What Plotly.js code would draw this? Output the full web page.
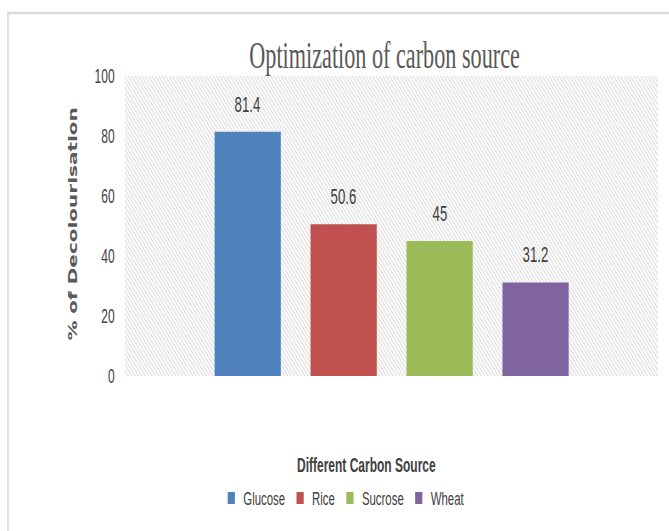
<!DOCTYPE html>
<html>
<head>
<meta charset="utf-8">
<script src="https://cdn.plot.ly/plotly-3.0.1.min.js"></script>
<style>
  html, body { margin: 0; padding: 0; overflow: hidden; background: #fff; }
  #chart { width: 1115px; height: 531px; transform: scaleX(0.6); transform-origin: 0 0; }
</style>
</head>
<body>
<div id="chart"></div>
<script>
// Data
const categories = ["Glucose", "Rice", "Sucrose", "Wheat"];
const decolourisation = [81.4, 50.6, 45, 31.2];
const barColors = ["#4F81BD", "#C0504D", "#9BBB59", "#8064A2"];
const yTickValues = [0, 20, 40, 60, 80, 100];

const sansFont = "Liberation Sans, Arial, sans-serif";
const textGray = "#404040";

const traces = [];
// hatched plot background
traces.push({
  type: "scatter",
  x: [0, 1, 1, 0], y: [0, 0, 100, 100],
  xaxis: "x", yaxis: "y",
  fill: "toself", mode: "lines",
  line: { width: 0 },
  fillcolor: "rgba(0,0,0,0)",
  fillpattern: { shape: "\\", fgcolor: "#d6d6d6", bgcolor: "#ffffff", size: 4, solidity: 0.3 },
  showlegend: false, hoverinfo: "skip"
});

categories.forEach((c, i) => {
  traces.push({
    type: "bar",
    name: c,
    x: [c], y: [decolourisation[i]],
    xaxis: "x2", yaxis: "y",
    width: 0.69,
    marker: { color: barColors[i], line: { width: 0 } },
    hoverinfo: "x+y"
  });
});

const annotations = categories.map((c, i) => ({
  xref: "x2", yref: "y", x: c, y: decolourisation[i],
  text: String(decolourisation[i]),
  showarrow: false, yanchor: "bottom", yshift: 13,
  font: { family: sansFont, size: 22, color: textGray }
}));

annotations.push({
  xref: "paper", yref: "paper", x: -0.097, y: 0.507,
  text: "% of Decolourisation", textangle: -90, showarrow: false,
  xanchor: "center", yanchor: "middle",
  font: { family: "DejaVu Sans, Verdana, sans-serif", size: 20, color: "#595959", weight: "bold" }
});
annotations.push({
  xref: "paper", yref: "paper", x: 0.453, y: -0.297,
  text: "<b>Different Carbon Source</b>", showarrow: false,
  xanchor: "center", yanchor: "middle",
  font: { family: sansFont, size: 20, color: textGray }
});

const layout = {
  width: 1115, height: 531,
  margin: { l: 208, r: 18, t: 76, b: 155 },
  paper_bgcolor: "#ffffff",
  plot_bgcolor: "#ffffff",
  barmode: "overlay",
  title: {
    text: "Optimization of carbon source",
    xref: "paper", x: 0.487, xanchor: "center",
    yref: "container", y: 0.897, yanchor: "middle",
    font: { family: "Liberation Serif, Times New Roman, serif", size: 37, color: "#595959" }
  },
  xaxis: { range: [0, 1], visible: false, fixedrange: true },
  xaxis2: {
    type: "category", categoryarray: categories, categoryorder: "array",
    overlaying: "x", anchor: "y",
    range: [-1.281, 4.278],
    showticklabels: false, ticks: "", showgrid: false, zeroline: false, showline: false
  },
  yaxis: {
    range: [0, 100], tickvals: yTickValues,
    showgrid: false, zeroline: false, showline: false, ticks: "",
    ticklabelstandoff: 16,
    tickfont: { family: sansFont, size: 20, color: textGray }
  },
  legend: {
    orientation: "h", x: 0.41, xanchor: "center", y: -0.407, yanchor: "middle",
    font: { family: sansFont, size: 19, color: textGray },
    bgcolor: "rgba(0,0,0,0)"
  },
  shapes: [{
    type: "rect", xref: "paper", yref: "paper",
    x0: -0.219, x1: 1.3, y0: -0.9, y1: 1.21,
    line: { color: "#d9d9d9", width: 2.5 }, fillcolor: "rgba(0,0,0,0)", layer: "below"
  }],
  annotations: annotations,
  showlegend: true
};

Plotly.newPlot("chart", traces, layout, { displayModeBar: false, staticPlot: true });
</script>
</body>
</html>
